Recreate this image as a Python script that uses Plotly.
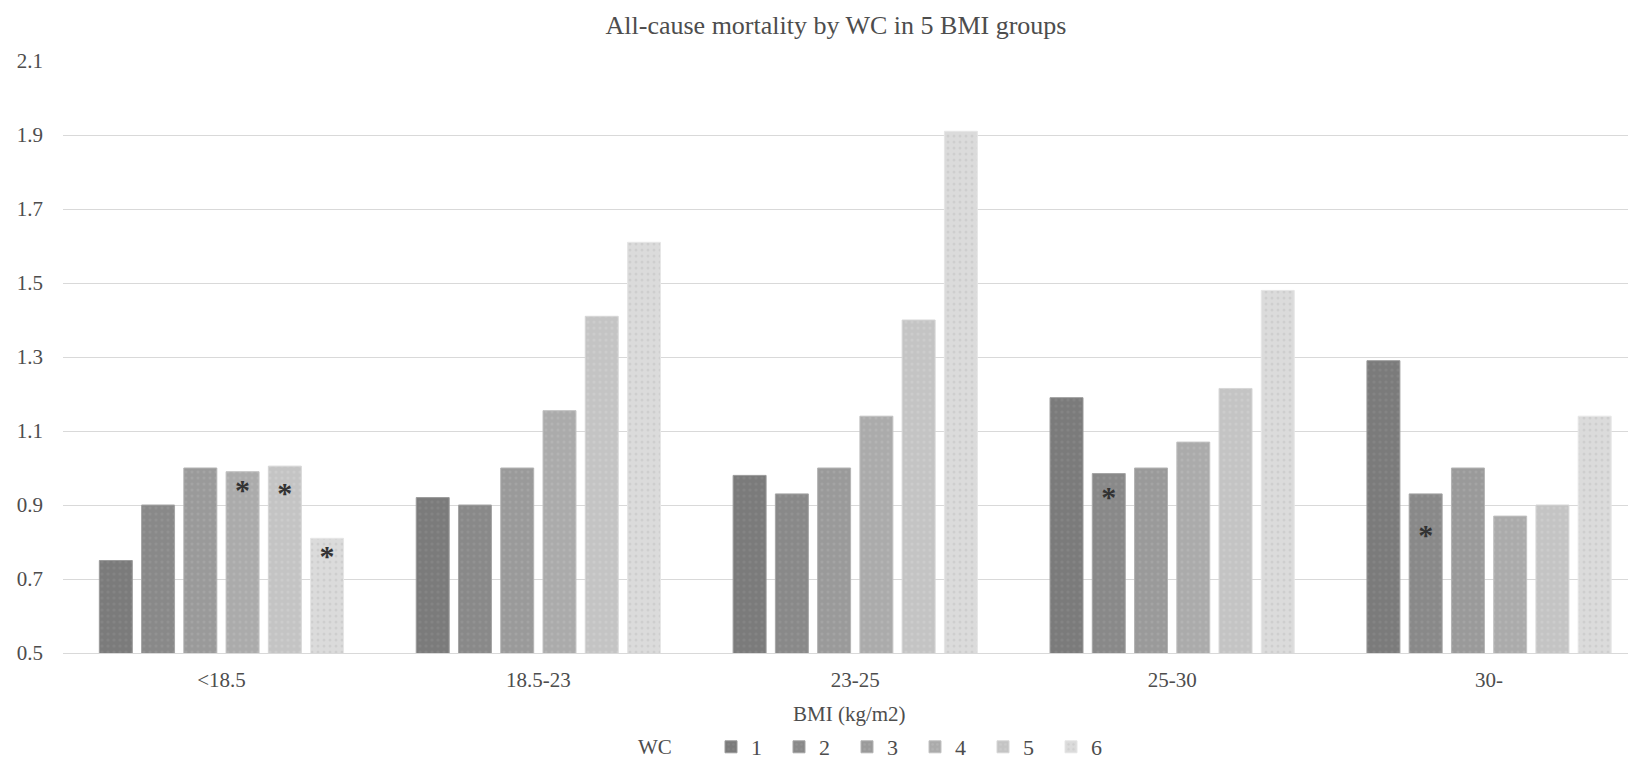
import plotly.graph_objects as go

# ---------------- data ----------------
categories = ["<18.5", "18.5-23", "23-25", "25-30", "30-"]
wc_labels = ["1", "2", "3", "4", "5", "6"]

wc1 = [0.75, 0.92, 0.98, 1.19, 1.29]
wc2 = [0.90, 0.90, 0.93, 0.985, 0.93]
wc3 = [1.00, 1.00, 1.00, 1.00, 1.00]
wc4 = [0.99, 1.155, 1.14, 1.07, 0.87]
wc5 = [1.005, 1.41, 1.40, 1.215, 0.90]
wc6 = [0.81, 1.61, 1.91, 1.48, 1.14]
series = [wc1, wc2, wc3, wc4, wc5, wc6]

y_ticks = [0.5, 0.7, 0.9, 1.1, 1.3, 1.5, 1.7, 1.9, 2.1]

# significance markers: group index, WC series (1-based), marker height
star_group = [0, 0, 0, 3, 4]
star_series = [4, 5, 6, 2, 2]
star_y = [0.935, 0.925, 0.755, 0.915, 0.812]

# ---------------- style ----------------
FONT = "Liberation Serif"
TXT = "#4d4d4d"
colors = ["#7b7b7b", "#898989", "#9a9a9a", "#ababab", "#c4c4c4", "#dbdbdb"]
dot_colors = ["#8e8e8e", "#9b9b9b", "#adadad", "#bdbdbd", "#d3d3d3", "#c2c2c2"]
edge_colors = ["#9a9a9a", "#a5a5a5", "#b3b3b3", "#c2c2c2", "#d6d6d6", "#e6e6e6"]
BARGAP = 0.2
GROUPGAP = 0.22

W, H = 1628, 762
L, T, B = 63, 61, 109
PLOT_W = W - L
PLOT_H = H - T - B


def px_x(px):
    return (px - L) / PLOT_W


def px_y(py):
    return (H - B - py) / PLOT_H


xs = list(range(len(categories)))

fig = go.Figure()
for i, vals in enumerate(series):
    fig.add_trace(go.Bar(
        x=xs, y=vals, name=wc_labels[i],
        marker=dict(
            color=colors[i],
            line=dict(color=edge_colors[i], width=1),
            pattern=dict(shape=".", fgcolor=dot_colors[i], size=6,
                         solidity=0.2, fillmode="overlay"),
        ),
        hoverinfo="skip",
    ))

n = len(series)
slot = (1 - BARGAP) / n
star_x = [g + (s - (n + 1) / 2) * slot for g, s in zip(star_group, star_series)]
fig.add_trace(go.Scatter(
    x=star_x, y=star_y, mode="text", text=["<b>*</b>"] * len(star_x),
    textposition="middle center",
    textfont=dict(family=FONT, size=30, color="#333333"),
    showlegend=False, hoverinfo="skip",
))

fig.update_layout(
    width=W, height=H,
    margin=dict(l=L, r=0, t=T, b=B),
    paper_bgcolor="white", plot_bgcolor="white",
    barmode="group", bargap=BARGAP, bargroupgap=GROUPGAP,
    font=dict(family=FONT, color=TXT, size=20),
    title=dict(text="All-cause mortality by WC in 5 BMI groups",
               x=836 / W, xref="container", xanchor="center",
               y=1 - 25 / H, yref="container", yanchor="middle",
               font=dict(family=FONT, size=26, color=TXT)),
    showlegend=True,
    legend=dict(orientation="h", xref="container", yref="container",
                x=711 / W, xanchor="left", y=1 - 747 / H, yanchor="middle",
                font=dict(family=FONT, size=22, color=TXT),
                entrywidth=23, entrywidthmode="pixels",
                itemclick=False, itemdoubleclick=False,
                traceorder="normal"),
    annotations=[
        dict(text="BMI (kg/m2)", xref="paper", yref="paper",
             x=px_x(850), y=px_y(714), xanchor="center", yanchor="middle",
             showarrow=False, font=dict(family=FONT, size=21, color=TXT)),
        dict(text="WC", xref="paper", yref="paper",
             x=px_x(655), y=px_y(747), xanchor="center", yanchor="middle",
             showarrow=False, font=dict(family=FONT, size=21, color=TXT)),
    ],
)

fig.update_xaxes(
    range=[-0.5, -0.5 + PLOT_W / 316.9],
    tickvals=xs, ticktext=categories,
    showgrid=False, zeroline=False,
    showline=True, linecolor="#d9d9d9", linewidth=1,
    ticks="", ticklabelstandoff=8,
    tickfont=dict(family=FONT, size=21, color=TXT),
)
fig.update_yaxes(
    range=[0.5, 2.1], tickvals=y_ticks, ticktext=[f"{v:.1f}" for v in y_ticks],
    showgrid=True, gridcolor="#d9d9d9", gridwidth=1,
    zeroline=False, showline=False, ticks="", ticklabelstandoff=19,
    tickfont=dict(family=FONT, size=21, color=TXT),
)

fig.write_html("out.html")
